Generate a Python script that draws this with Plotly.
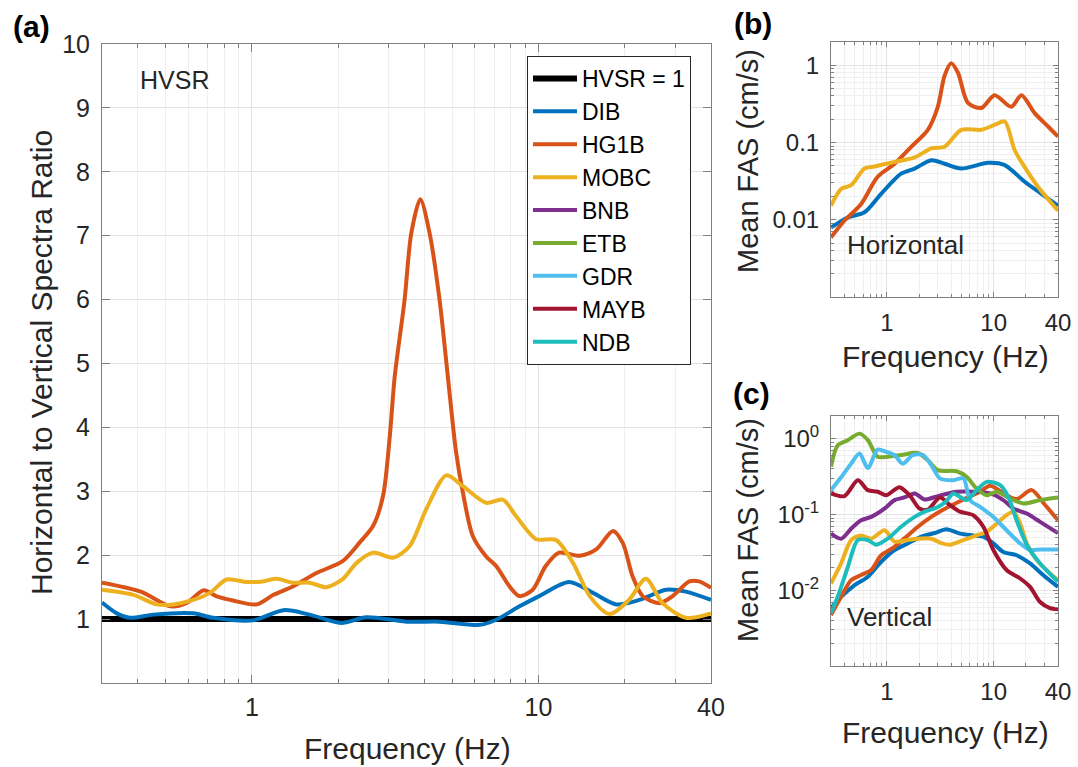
import math
import plotly.graph_objects as go

# ---------------- data ----------------
# (a) horizontal-to-vertical spectral ratio
HVSR_ONE_F = [0.3, 40]
HVSR_ONE = [1, 1]

DIB_A_F = [0.30, 0.338, 0.376, 0.453, 0.624, 0.733, 1.01, 1.29, 1.59, 2.05, 2.51, 3.46,
           4.52, 6.23, 7.12, 8.59, 10.06, 12.8, 15.5, 18.7, 22.5, 27.9, 32.7, 40]
DIB_A = [1.26, 1.09, 1.02, 1.07, 1.09, 1.02, 0.98, 1.14, 1.07, 0.94, 1.03, 0.96,
         0.96, 0.91, 0.99, 1.20, 1.36, 1.58, 1.41, 1.23, 1.30, 1.46, 1.43, 1.30]

HG1B_A_F = [0.30, 0.41, 0.52, 0.59, 0.68, 0.75, 0.86, 1.04, 1.19, 1.39, 1.68, 2.08, 2.38,
            2.65, 2.87, 3.03, 3.15, 3.41, 3.60, 3.87, 4.17, 4.52, 4.83, 5.16, 5.45, 5.90,
            6.57, 7.12, 7.93, 8.59, 9.55, 10.6, 11.8, 13.9, 15.9, 18.2, 19.7, 21.3, 23.1,
            26.4, 29.4, 33.6, 36.4, 40]
HG1B_A = [1.57, 1.43, 1.20, 1.25, 1.45, 1.36, 1.29, 1.23, 1.38, 1.51, 1.72, 1.91, 2.20,
          2.46, 2.93, 3.87, 4.79, 5.99, 7.04, 7.57, 7.04, 5.99, 4.79, 3.61, 2.98, 2.30,
          1.98, 1.83, 1.51, 1.36, 1.46, 1.83, 2.04, 1.99, 2.09, 2.38, 2.19, 1.67, 1.36,
          1.25, 1.36, 1.59, 1.59, 1.49]

MOBC_A_F = [0.30, 0.386, 0.466, 0.532, 0.624, 0.714, 0.816, 0.96, 1.09, 1.22, 1.39, 1.59,
            1.82, 2.08, 2.32, 2.65, 3.11, 3.55, 4.06, 4.77, 5.45, 6.57, 7.51, 8.36, 9.82,
            11.5, 13.2, 15.1, 17.7, 20.7, 23.7, 27.1, 32.7, 40]
MOBC_A = [1.46, 1.38, 1.23, 1.23, 1.30, 1.41, 1.62, 1.58, 1.59, 1.63, 1.57, 1.57,
          1.50, 1.63, 1.88, 2.04, 1.96, 2.14, 2.72, 3.25, 3.08, 2.82, 2.87, 2.61, 2.25,
          2.24, 1.88, 1.36, 1.08, 1.30, 1.63, 1.25, 1.02, 1.09]

# (b) mean Fourier amplitude spectra, horizontal component
DIB_B_F = [0.30, 0.43, 0.618, 0.885, 1.36, 1.82, 2.61, 3.47, 4.97, 8.85, 12.7, 19.5, 28, 40]
DIB_B = [0.0079, 0.0107, 0.0125, 0.0217, 0.0395, 0.046, 0.059, 0.053, 0.046, 0.0545,
         0.051, 0.031, 0.0217, 0.0152]

HG1B_B_F = [0.30, 0.40, 0.575, 0.82, 1.18, 1.69, 2.42, 3.0, 3.47, 4.0, 4.63, 5.74, 7.66,
            10.2, 14.6, 18.2, 24.2, 32.3, 40]
HG1B_B = [0.0059, 0.0097, 0.016, 0.036, 0.053, 0.088, 0.146, 0.29, 0.73, 1.06, 0.80,
          0.325, 0.28, 0.41, 0.29, 0.41, 0.24, 0.161, 0.119]

MOBC_B_F = [0.30, 0.373, 0.463, 0.618, 0.766, 1.18, 1.82, 2.61, 3.47, 4.97, 7.66, 10.2,
            12.7, 15.7, 19.5, 26.1, 40]
MOBC_B = [0.0152, 0.025, 0.028, 0.046, 0.049, 0.056, 0.064, 0.084, 0.088, 0.146, 0.146,
          0.169, 0.187, 0.08, 0.048, 0.0265, 0.0131]

# (c) mean Fourier amplitude spectra, vertical component
DIB_C_F = [0.30, 0.373, 0.50, 0.664, 0.885, 1.18, 1.57, 2.1, 2.8, 3.6, 4.83, 6.44, 8.0,
           9.93, 12.3, 16.4, 21.9, 29.2, 40]
DIB_C = [0.0058, 0.0082, 0.0117, 0.0151, 0.0238, 0.034, 0.0415, 0.051, 0.057, 0.064,
         0.056, 0.053, 0.051, 0.0415, 0.032, 0.029, 0.0226, 0.0158, 0.0111]

HG1B_C_F = [0.30, 0.373, 0.463, 0.574, 0.713, 0.885, 1.18, 1.57, 1.95, 2.6, 3.14, 4.83,
            7.45, 9.25, 13.2, 16.4, 22.7, 29.5, 40]
HG1B_C = [0.0047, 0.0082, 0.0136, 0.0159, 0.0185, 0.029, 0.0375, 0.053, 0.069, 0.093,
          0.11, 0.15, 0.2, 0.24, 0.18, 0.16, 0.21, 0.14, 0.084]

MOBC_C_F = [0.30, 0.373, 0.463, 0.574, 0.713, 0.95, 1.18, 1.57, 1.95, 2.6, 3.23, 3.9,
            5.2, 6.93, 8.6, 10.7, 13.2, 15.3, 17.7, 20.4, 25.3, 33.7, 40]
MOBC_C = [0.0123, 0.0226, 0.046, 0.053, 0.048, 0.062, 0.044, 0.046, 0.048, 0.048, 0.042,
          0.040, 0.046, 0.053, 0.059, 0.076, 0.098, 0.109, 0.076, 0.0415, 0.025, 0.0167,
          0.0136]

BNB_C_F = [0.30, 0.373, 0.463, 0.574, 0.713, 0.95, 1.18, 1.46, 1.82, 2.26, 3.0, 4.5,
           6.44, 9.25, 12.3, 15.3, 20.4, 27.2, 40]
BNB_C = [0.056, 0.048, 0.065, 0.084, 0.093, 0.12, 0.155, 0.168, 0.19, 0.158, 0.175, 0.2,
         0.2, 0.19, 0.155, 0.12, 0.103, 0.080, 0.057]

ETB_C_F = [0.30, 0.347, 0.43, 0.555, 0.664, 0.82, 1.02, 1.36, 1.95, 2.42, 3.0, 4.5, 5.58,
           6.93, 8.6, 10.7, 14.2, 19.0, 27.2, 40]
ETB_C = [0.43, 0.82, 0.96, 1.17, 0.96, 0.58, 0.58, 0.61, 0.65, 0.52, 0.385, 0.373, 0.314,
         0.22, 0.18, 0.2, 0.163, 0.14, 0.155, 0.168]

GDR_C_F = [0.30, 0.373, 0.463, 0.555, 0.664, 0.82, 0.99, 1.18, 1.41, 1.75, 2.18, 2.6,
           3.14, 4.19, 5.2, 6.0, 7.45, 9.93, 13.2, 17.7, 21.9, 27.2, 40]
GDR_C = [0.21, 0.31, 0.47, 0.64, 0.41, 0.72, 0.67, 0.61, 0.47, 0.61, 0.61, 0.45, 0.30,
         0.284, 0.30, 0.155, 0.126, 0.093, 0.062, 0.0415, 0.034, 0.0346, 0.0346]

MAYB_C_F = [0.30, 0.40, 0.535, 0.664, 0.82, 0.99, 1.31, 1.63, 2.02, 2.42, 3.14, 3.9,
            4.83, 6.44, 8.0, 9.93, 13.2, 17.7, 21.9, 27.2, 33.7, 40]
MAYB_C = [0.19, 0.175, 0.284, 0.21, 0.2, 0.18, 0.23, 0.18, 0.12, 0.116, 0.168, 0.133,
          0.109, 0.098, 0.069, 0.034, 0.0185, 0.0143, 0.0111, 0.0070, 0.0058, 0.0056]

NDB_C_F = [0.30, 0.347, 0.43, 0.535, 0.664, 0.794, 1.02, 1.36, 1.82, 2.26, 3.0, 3.6,
           4.19, 5.58, 6.93, 8.6, 11.5, 13.7, 16.4, 20.4, 27.2, 40]
NDB_C = [0.005, 0.0082, 0.02, 0.046, 0.046, 0.04, 0.048, 0.069, 0.093, 0.109, 0.126,
         0.15, 0.19, 0.155, 0.21, 0.27, 0.244, 0.171, 0.084, 0.04, 0.0226, 0.013]

# tick labels
FREQ_TICKS = [1, 10, 40]
FREQ_TICK_TEXT = ["1", "10", "40"]
HVSR_TICKS = [1, 2, 3, 4, 5, 6, 7, 8, 9, 10]
FAS_TICKS = [0.01, 0.1, 1]
FAS_TICK_TEXT_B = ["0.01", "0.1", "1"]
FAS_TICK_TEXT_C = ["10<sup>-2</sup>", "10<sup>-1</sup>", "10<sup>0</sup>"]

COLORS = {
    "DIB": "#0072BD", "HG1B": "#D95319", "MOBC": "#EDB120", "BNB": "#7E2F8E",
    "ETB": "#77AC30", "GDR": "#4DBEEE", "MAYB": "#A2142F", "NDB": "#1DBDBD",
}

# ---------------- figure ----------------
W, H = 1078, 767
FONT = "Liberation Sans, Arial, Helvetica, sans-serif"
TXT = "#262626"
AXC = "#7f7f7f"
GRID = "#e3e3e3"
MGRID = "#efefef"


def px(x):
    return x / W


def py(y):
    return 1 - y / H


fig = go.Figure()


def add(x, y, name, color, xa, ya, width=4.0, legend=False):
    fig.add_trace(go.Scatter(
        x=x, y=y, name=name, mode="lines", xaxis=xa, yaxis=ya,
        line=dict(color=color, width=width, shape="spline", smoothing=0.8),
        showlegend=legend, hoverinfo="skip"))


# panel (a)
add(HVSR_ONE_F, HVSR_ONE, "HVSR = 1", "black", "x", "y", width=6, legend=True)
add(DIB_A_F, DIB_A, "DIB", COLORS["DIB"], "x", "y", legend=True)
add(HG1B_A_F, HG1B_A, "HG1B", COLORS["HG1B"], "x", "y", legend=True)
add(MOBC_A_F, MOBC_A, "MOBC", COLORS["MOBC"], "x", "y", legend=True)

# panel (b)
add(DIB_B_F, DIB_B, "DIB", COLORS["DIB"], "x2", "y2")
add(HG1B_B_F, HG1B_B, "HG1B", COLORS["HG1B"], "x2", "y2")
add(MOBC_B_F, MOBC_B, "MOBC", COLORS["MOBC"], "x2", "y2")

# panel (c)
add(DIB_C_F, DIB_C, "DIB", COLORS["DIB"], "x3", "y3")
add(HG1B_C_F, HG1B_C, "HG1B", COLORS["HG1B"], "x3", "y3")
add(MOBC_C_F, MOBC_C, "MOBC", COLORS["MOBC"], "x3", "y3")
add(BNB_C_F, BNB_C, "BNB", COLORS["BNB"], "x3", "y3", legend=True)
add(ETB_C_F, ETB_C, "ETB", COLORS["ETB"], "x3", "y3", legend=True)
add(GDR_C_F, GDR_C, "GDR", COLORS["GDR"], "x3", "y3", legend=True)
add(MAYB_C_F, MAYB_C, "MAYB", COLORS["MAYB"], "x3", "y3", legend=True)
add(NDB_C_F, NDB_C, "NDB", COLORS["NDB"], "x3", "y3", legend=True)

LOG_X_RANGE = [math.log10(0.3), math.log10(40)]
LOG_Y_RANGE = [-3, math.log10(2)]
minor_x = [0.3, 0.4, 0.5, 0.6, 0.7, 0.8, 0.9, 2, 3, 4, 5, 6, 7, 8, 9, 20, 30]
minor_y = [m * d for d in (0.001, 0.01, 0.1) for m in range(2, 10)] + [2]


def freq_axis(domain, anchor, ticklen, size, standoff):
    return dict(
        type="log", domain=domain, anchor=anchor, range=LOG_X_RANGE,
        automargin=False,
        tickmode="array", tickvals=FREQ_TICKS, ticktext=FREQ_TICK_TEXT,
        ticks="inside", ticklen=ticklen, tickcolor=AXC, tickwidth=1,
        showline=True, linecolor=AXC, linewidth=1, mirror="allticks",
        showgrid=True, gridcolor=GRID, gridwidth=1, zeroline=False,
        tickfont=dict(size=size, color=TXT, family=FONT), ticklabelstandoff=standoff,
        minor=dict(tickmode="array", tickvals=minor_x, ticks="inside",
                   ticklen=ticklen * 0.55, tickcolor=AXC, showgrid=True,
                   gridcolor=MGRID, gridwidth=1),
    )


def fas_axis(domain, anchor, text):
    return dict(
        type="log", domain=domain, anchor=anchor, range=LOG_Y_RANGE,
        automargin=False,
        tickmode="array", tickvals=FAS_TICKS, ticktext=text,
        ticks="inside", ticklen=5, tickcolor=AXC, tickwidth=1,
        showline=True, linecolor=AXC, linewidth=1, mirror="allticks",
        showgrid=True, gridcolor=GRID, gridwidth=1, zeroline=False,
        tickfont=dict(size=24, color=TXT, family=FONT), ticklabelstandoff=6,
        minor=dict(tickmode="array", tickvals=minor_y, ticks="inside", ticklen=3,
                   tickcolor=AXC, showgrid=True, gridcolor=MGRID, gridwidth=1),
    )


fig.update_layout(
    width=W, height=H, margin=dict(l=0, r=0, t=0, b=0, pad=0), autosize=False,
    paper_bgcolor="white", plot_bgcolor="white",
    font=dict(family=FONT, color=TXT),
    xaxis=freq_axis([px(102), px(711)], "y", 8, 25, 2),
    yaxis=dict(
        domain=[py(683), py(44)], anchor="x", range=[0, 10], automargin=False,
        tickmode="array", tickvals=HVSR_TICKS,
        ticks="inside", ticklen=8, tickcolor=AXC, tickwidth=1,
        showline=True, linecolor=AXC, linewidth=1, mirror="allticks",
        showgrid=True, gridcolor=GRID, zeroline=False,
        tickfont=dict(size=25, color=TXT, family=FONT), ticklabelstandoff=6),
    xaxis2=freq_axis([px(831), px(1058)], "y2", 5, 24, 4),
    yaxis2=fas_axis([py(297), py(42)], "x2", FAS_TICK_TEXT_B),
    xaxis3=freq_axis([px(831), px(1058)], "y3", 5, 24, 4),
    yaxis3=fas_axis([py(666), py(416)], "x3", FAS_TICK_TEXT_C),
    legend=dict(
        x=px(527), y=py(56), xanchor="left", yanchor="top",
        bgcolor="white", bordercolor="#262626", borderwidth=1,
        font=dict(size=23, color="black", family=FONT),
        tracegroupgap=0, itemwidth=44,
    ),
)


def label(text, x, y, size, angle=0, bold=False, xanchor="center"):
    fig.add_annotation(
        text=f"<b>{text}</b>" if bold else text, x=px(x), y=py(y),
        xref="paper", yref="paper", xanchor=xanchor, yanchor="middle",
        showarrow=False, textangle=angle,
        font=dict(size=size, color="black" if bold else TXT, family=FONT))


# axis titles
label("Horizontal to Vertical Spectra Ratio", 41, 363, 30, angle=-90)
label("Frequency (Hz)", 407, 748, 30)
label("Mean FAS (cm/s)", 748, 161, 29, angle=-90)
label("Frequency (Hz)", 945, 357, 30)
label("Mean FAS (cm/s)", 748, 530, 29, angle=-90)
label("Frequency (Hz)", 945, 732, 30)

# in-panel captions
label("HVSR", 138, 80, 25, xanchor="left")
label("Horizontal", 845, 245, 26, xanchor="left")
label("Vertical", 845, 617, 26, xanchor="left")

# panel letters
label("(a)", 31, 27, 30, bold=True)
label("(b)", 753, 24, 30, bold=True)
label("(c)", 751, 393, 30, bold=True)

fig.write_html("out.html")
